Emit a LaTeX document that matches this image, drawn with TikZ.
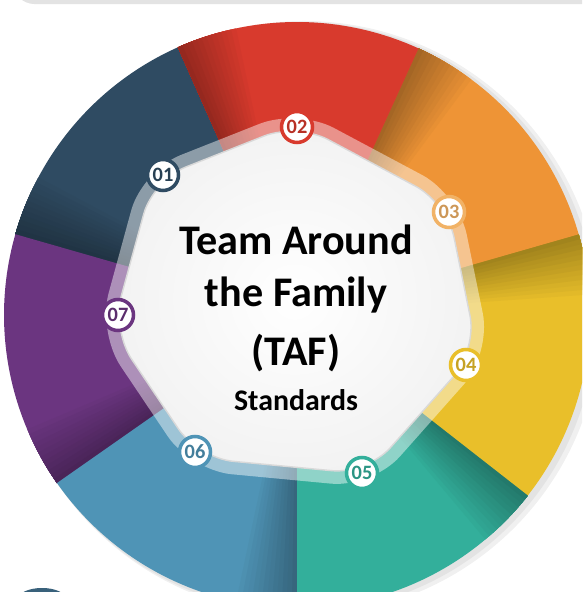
\documentclass[tikz,border=0pt]{standalone}
\usepackage{fontspec}
\setmainfont{Carlito}

\definecolor{tafnavy}{HTML}{2F4B62}
\definecolor{tafred}{HTML}{D83A2D}
\definecolor{taforange}{HTML}{EE9436}
\definecolor{tafpeach}{HTML}{F1B266}
\definecolor{tafyellow}{HTML}{E9BF2A}
\definecolor{tafteal}{HTML}{33AF9B}
\definecolor{tafblue}{HTML}{4F94B6}
\definecolor{tafpurple}{HTML}{6B3580}

\begin{document}
\begin{tikzpicture}[
    num/.style={circle, draw=#1, line width=1pt, fill=white, inner sep=0pt,
        minimum size=0.31cm, font=\fontsize{5.8}{6}\selectfont\bfseries, text=#1!85!black},
    title/.style={anchor=base, font=\fontsize{12}{14}\selectfont\bfseries},
    heptagon/.style={rounded corners=10pt, insert path={(2.97,4.69) -- (4.47,3.89) -- (4.77,2.42)
        -- (3.67,1.18) -- (1.98,1.34) -- (1.12,2.62) -- (1.53,4.12) -- cycle}}]
    \useasboundingbox (0,0) rectangle (5.82,5.92);
    \clip (0,0) rectangle (5.82,5.92);

    \coordinate (C) at (2.97,2.77);
    \def\R{2.93}

    % bits of the neighbouring boxes
    \draw[gray!22, line width=1.2pt, rounded corners=6pt] (0.14,6.2) -- (0.14,5.90) -- (5.95,5.90);
    \fill[tafnavy!70!tafblue] (0.42,-0.07) ellipse[x radius=0.24, y radius=0.11];

    % soft shadow
    \fill[gray!12] ([shift={(0.07,-0.03)}]C) circle[radius=2.97];
    \fill[gray!22] ([shift={(0.04,-0.02)}]C) circle[radius=2.95];

    % wedges, each darker towards its left edge
    \foreach \a/\b/\col in {114/164/tafnavy, 164/215/tafpurple, 215/270/tafblue, 270/322/tafteal,
                            322/376/tafyellow, 376/425.5/taforange, 425.5/474/tafred} {
        \fill[\col] (C) -- ++(\a:\R) arc[start angle=\a, end angle=\b, radius=\R] -- cycle;
        \foreach \k in {0,...,11} {
            \pgfmathsetmacro\s{\b-12+\k}
            \pgfmathtruncatemacro\m{97-2.5*\k}
            \fill[\col!\m!black] (C) -- ++(\s:\R) arc[start angle=\s, end angle=\b, radius=\R] -- cycle;
        }
    }

    % glass frame and white centre
    \draw[heptagon, draw=white, draw opacity=0.45, line width=0.26cm];
    \shade[heptagon, scale around={0.93:(2.93,2.89)}, inner color=white, outer color=gray!10];
    \draw[heptagon, scale around={0.93:(2.93,2.89)}, gray!30, line width=0.4pt];

    % numbered markers
    \node[num=tafnavy]    (n1) at (1.63,4.17) {01};
    \node[num=tafred]     (n2) at (2.97,4.65) {02};
    \node[num=tafpeach]   (n3) at (4.49,3.80) {03};
    \node[num=tafyellow]  (n4) at (4.66,2.27) {04};
    \node[num=tafteal]    (n5) at (3.62,1.19) {05};
    \node[num=tafblue]    (n6) at (1.95,1.40) {06};
    \node[num=tafpurple]  (n7) at (1.18,2.77) {07};

    \node[title] (l1) at (2.96,3.37) {Team Around};
    \node[title] (l2) at (2.96,2.85) {the Family};
    \node[title] (l3) at (2.96,2.26) {(TAF)};
    \node[anchor=base, font=\fontsize{8.5}{10}\selectfont\bfseries] (std) at (2.96,1.81) {Standards};
\end{tikzpicture}
\end{document}
